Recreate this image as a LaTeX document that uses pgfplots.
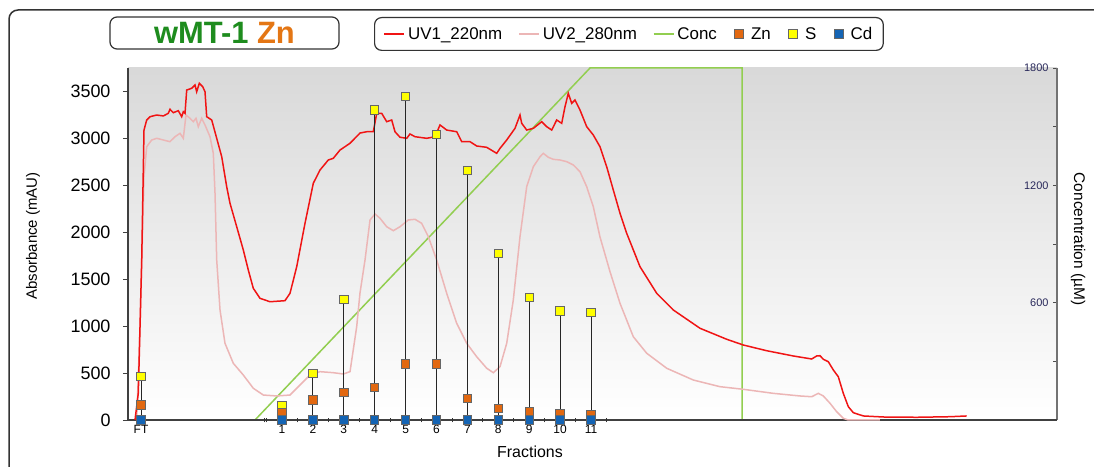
\documentclass[border=0pt]{standalone}
\usepackage{fontspec}
\setmainfont{Liberation Sans}
\usepackage{pgfplots}
\pgfplotsset{compat=1.18}
\usepackage{pgfplotstable}

\definecolor{uvone}{RGB}{240,20,20}
\definecolor{uvtwo}{RGB}{236,182,182}
\definecolor{concg}{RGB}{146,206,80}
\definecolor{znc}{RGB}{226,104,16}
\definecolor{sc}{RGB}{255,255,0}
\definecolor{cdc}{RGB}{20,100,180}
\definecolor{titlegreen}{RGB}{30,140,30}
\definecolor{titleorange}{RGB}{228,118,20}
\definecolor{navy}{RGB}{40,40,90}

% UV trace at 220 nm (mAU); x in fraction units
\pgfplotstableread{
x y
-3.757 0
-3.650 288
-3.540 1704
-3.466 3089
-3.379 3196
-3.272 3231
-3.055 3249
-2.841 3239
-2.680 3267
-2.625 3310
-2.518 3274
-2.356 3295
-2.246 3231
-2.194 3284
-2.139 3267
-2.084 3515
-1.922 3534
-1.816 3569
-1.761 3497
-1.676 3587
-1.566 3551
-1.492 3497
-1.437 3231
-1.275 3196
-1.113 3001
-0.951 2805
-0.790 2485
-0.683 2309
-0.466 2059
-0.252 1811
-0.091 1598
0.071 1403
0.288 1296
0.612 1260
1.097 1271
1.259 1350
1.476 1633
1.744 2095
2.013 2522
2.230 2663
2.498 2770
2.660 2788
2.877 2876
3.201 2948
3.524 3057
3.741 3071
3.955 3071
4.065 3267
4.227 3267
4.388 3178
4.550 3196
4.657 3071
4.819 3012
5.036 3001
5.142 3047
5.304 3018
5.683 3001
5.951 3018
6.113 3143
6.330 3089
6.654 3071
6.816 2965
7.084 2965
7.301 2919
7.625 2905
7.948 2841
8.055 2894
8.272 2983
8.540 3107
8.702 3249
8.757 3161
8.919 3089
9.133 3107
9.405 3178
9.566 3125
9.728 3089
9.890 3196
10.052 3161
10.159 3338
10.265 3480
10.375 3374
10.482 3409
10.644 3302
10.861 3125
11.074 3036
11.291 2911
11.508 2698
11.722 2450
11.939 2202
12.155 1989
12.586 1633
13.126 1350
13.663 1172
14.528 977
15.392 860
15.929 799
16.686 738
17.547 682
18.142 650
18.304 682
18.411 685
18.518 647
18.680 621
18.842 533
19.003 461
19.165 284
19.327 142
19.489 78
19.812 43
20.460 32
21.540 29
22.618 35
23.159 43
}\uvA

% UV trace at 280 nm (mAU)
\pgfplotstableread{
x y
-3.702 0
-3.595 994
-3.466 2592
-3.379 2911
-3.217 2983
-3.055 3001
-2.841 2983
-2.625 2965
-2.463 3018
-2.301 3054
-2.194 3001
-2.107 3249
-1.977 3214
-1.871 3178
-1.783 3214
-1.709 3125
-1.599 3214
-1.492 3143
-1.330 3018
-1.223 2841
-1.168 2415
-1.113 1704
-1.006 1172
-0.845 817
-0.576 604
-0.252 479
0.071 338
0.395 266
0.828 256
1.259 266
1.583 373
1.906 479
2.230 515
2.660 504
2.984 490
3.201 515
3.417 994
3.524 1353
3.686 1704
3.848 2131
4.010 2195
4.172 2149
4.388 2059
4.602 2017
4.819 2059
5.087 2131
5.304 2138
5.521 2095
5.735 1953
6.006 1704
6.330 1350
6.654 1030
6.977 817
7.301 674
7.625 551
7.838 504
8.055 568
8.272 817
8.485 1278
8.702 1953
8.919 2485
9.133 2698
9.350 2805
9.456 2841
9.618 2799
9.780 2777
9.997 2770
10.214 2752
10.427 2717
10.644 2645
10.861 2485
11.074 2272
11.291 1950
11.615 1580
11.939 1243
12.369 887
12.803 711
13.450 551
14.311 426
15.175 355
15.929 327
16.900 284
17.764 256
18.142 248
18.356 284
18.518 256
18.735 178
18.951 88
19.165 18
19.327 0
20.350 0
}\uvB

% salt gradient (uM)
\pgfplotstableread{
x c
-3.984 0
0.126 0
10.968 1800
15.887 1800
15.887 0
20.350 0
}\conctab

% metal and sulfur content per fraction
\pgfplotstableread{
x zn s cd
-3.563 160 461 0
1 82 149 0
2 213 497 0
3 291 1286 0
4 344 3302 0
5 597 3444 0
6 597 3043 0
7 227 2656 0
8 124 1772 0
9 92 1307 0
10 71 1161 0
11 57 1143 0
}\metals

\pgfplotsset{
  plotbox/.style={
    at={(128bp,47bp)}, anchor=south west,
    scale only axis, width=929bp, height=352bp,
    xmin=-3.984, xmax=26.081,
    /pgf/number format/assume math mode=true,
    /pgf/number format/1000 sep={},
  },
  metalmark/.style={only marks, mark=square*, mark size=4.2bp,
    mark options={fill=#1, draw=black!60, line width=0.9bp}},
  uvoneimg/.style={legend image code/.code={\draw[sharp corners, uvone, line width=1.5bp] (0bp,0bp) -- (20bp,0bp);}},
  uvtwoimg/.style={legend image code/.code={\draw[sharp corners, uvtwo, line width=1.5bp] (0bp,0bp) -- (20bp,0bp);}},
  concimg/.style={legend image code/.code={\draw[sharp corners, concg, line width=1.5bp] (0bp,0bp) -- (20bp,0bp);}},
  squareimg/.style={legend image code/.code={\path (0bp,0bp) (14bp,0bp);
    \draw[sharp corners, fill=#1, draw=black!60, line width=0.9bp] (1bp,-4.5bp) rectangle (10bp,4.5bp);}},
}

\begin{document}
\begin{tikzpicture}
\path[use as bounding box] (0,0) rectangle (1094bp,467bp);
\clip (0,0) rectangle (1094bp,467bp);

% outer frame
\draw[black!80, line width=1.5bp, rounded corners=9bp] (9bp,-10bp) -- (9bp,457bp) -- (1110bp,457bp);

% right axis: concentration gradient
\begin{axis}[plotbox,
  ymin=0, ymax=1800,
  axis x line=none, axis y line*=right,
  axis background/.style={top color=black!15, bottom color=white},
  ytick={600,1200,1800}, minor ytick={300,900,1500},
  tick align=inside, major tick length=4bp, minor tick length=4bp,
  y axis line style={draw=black!55, line width=1.5bp},
  every tick/.style={draw=black!70, line width=0.8bp},
  yticklabel style={font=\fontsize{11}{13}\selectfont, text=navy, anchor=east, xshift=-5bp},
  ylabel={Concentration (µM)},
  ylabel style={at={(axis description cs:1.0226,0.514)}, anchor=center, rotate=180,
    font=\fontsize{15.5}{18}\selectfont},
  clip=false,
]
\addplot[concg, line width=1.5bp] table[x=x, y=c] {\conctab};
\end{axis}

% left axis: absorbance and metal content
\begin{axis}[plotbox,
  ymin=0, ymax=3750,
  axis y line*=left, axis x line*=bottom,
  axis line style={draw=black!75, line width=1.2bp},
  ytick={0,500,...,3500},
  ytick align=outside, major tick length=5bp,
  ytick style={draw=black!75, line width=0.8bp},
  yticklabel style={font=\fontsize{18}{20}\selectfont, xshift=-9bp},
  xtick={-3.563,1,2,3,4,5,6,7,8,9,10,11},
  xticklabels={FT,1,2,3,4,5,6,7,8,9,10,11},
  xtick align=inside,
  xtick style={draw=black!80, line width=0.8bp},
  xticklabel style={font=\fontsize{12}{14}\selectfont, yshift=-2bp},
  extra x ticks={0.417,0.498,1.5,2.5,3.5,4.5,5.5,6.5,7.5,8.5,9.5,10.5,11.5},
  extra x tick labels={},
  extra x tick style={xtick align=center},
  xlabel={Fractions},
  xlabel style={at={(axis description cs:0.4327,-0.091)}, anchor=center,
    font=\fontsize{16}{18}\selectfont},
  ylabel={Absorbance (mAU)},
  ylabel style={at={(axis description cs:-0.1023,0.523)}, anchor=center,
    font=\fontsize{15}{18}\selectfont},
  clip=false,
  legend style={at={(axis description cs:0.2648,1.1449)}, anchor=north west,
    draw=black!80, line width=1.2bp, rounded corners=7bp, fill=white,
    font=\fontsize{17}{20}\selectfont, legend columns=-1,
    inner xsep=9bp, inner ysep=6.5bp,
    nodes={inner xsep=2bp, inner ysep=3bp},
    /tikz/every odd column/.append style={column sep=1bp},
    /tikz/every even column/.append style={column sep=14bp}},
  legend cell align=left,
]
\addplot[uvtwo, line width=1.5bp, forget plot] table {\uvB};
\addplot[uvone, line width=1.5bp, forget plot] table {\uvA};
\addplot[ycomb, black!85, line width=0.9bp, no marks, forget plot] table[x=x, y=s] {\metals};
\addplot[metalmark=sc, forget plot] table[x=x, y=s] {\metals};
\addplot[metalmark=znc, forget plot] table[x=x, y=zn] {\metals};
\addplot[metalmark=cdc, forget plot] table[x=x, y=cd] {\metals};

\addlegendimage{uvoneimg}
\addlegendentry{UV1\_220nm}
\addlegendimage{uvtwoimg}
\addlegendentry{UV2\_280nm}
\addlegendimage{concimg}
\addlegendentry{Conc}
\addlegendimage{squareimg=znc}
\addlegendentry{Zn}
\addlegendimage{squareimg=sc}
\addlegendentry{S}
\addlegendimage{squareimg=cdc}
\addlegendentry{Cd}
\end{axis}

% chart title
\node[draw=black!80, line width=1.2bp, rounded corners=7bp, fill=white,
  minimum width=229bp, minimum height=32bp, inner sep=0pt,
  font=\fontsize{31}{34}\selectfont\bfseries] at (224.5bp,434bp)
  {\textcolor{titlegreen}{wMT-1} \textcolor{titleorange}{Zn}};
\end{tikzpicture}
\end{document}
